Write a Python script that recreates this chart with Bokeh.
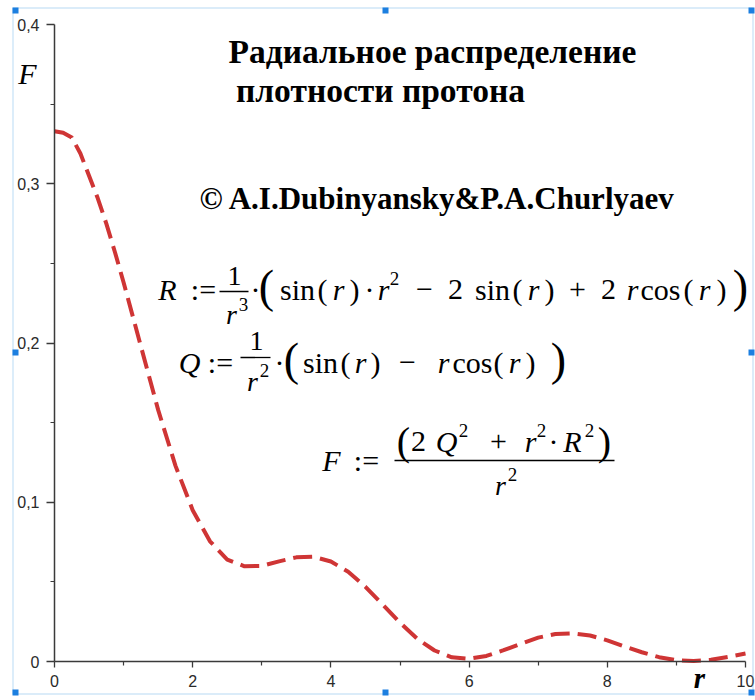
from bokeh.plotting import figure
from bokeh.models import Range1d, FixedTicker, Label, BoxAnnotation
from bokeh.embed import file_html
from bokeh.resources import INLINE

# ---------------- data ----------------
r_values = [0.0, 0.125, 0.25, 0.375, 0.5, 0.625, 0.75, 0.875, 1.0, 1.25, 1.5, 1.75,
            2.0, 2.25, 2.5, 2.75, 3.0, 3.25, 3.5, 3.75, 4.0, 4.25, 4.5, 4.75,
            5.0, 5.25, 5.5, 5.75, 6.0, 6.25, 6.5, 6.75, 7.0, 7.25, 7.5, 7.75,
            8.0, 8.25, 8.5, 8.75, 9.0, 9.25, 9.5, 9.75, 10.0]
F_values = [0.333, 0.332, 0.329, 0.319, 0.305, 0.291, 0.275, 0.257, 0.238, 0.198,
            0.158, 0.123, 0.095, 0.0755, 0.064, 0.0598, 0.060, 0.0629, 0.0654,
            0.0658, 0.0628, 0.0564, 0.0469, 0.0357, 0.0244, 0.0143, 0.0069,
            0.0026, 0.0017, 0.0035, 0.0071, 0.0112, 0.0150, 0.0173, 0.0177,
            0.0163, 0.0133, 0.0094, 0.0058, 0.0027, 0.0008, 0.0003, 0.0011,
            0.0029, 0.0050]

x_ticks = [0, 2, 4, 6, 8, 10]
x_tick_labels = ["0", "2", "4", "6", "8", "10"]
x_minor_ticks = [1, 3, 5, 7, 9]
y_ticks = [0, 0.1, 0.2, 0.3, 0.4]
y_tick_labels = ["0", "0,1", "0,2", "0,3", "0,4"]
y_minor_ticks = [0.05, 0.15, 0.25, 0.35]

title_lines = ["Радиальное распределение", "плотности протона"]
credit_text = "© A.I.Dubinyansky&P.A.Churlyaev"
y_name = "F"
x_name = "r"

# ---------------- layout (pixels of the 755x700 picture) ----------------
W, H = 755, 700
XMIN, XMAX, YMIN, YMAX = 0, 10, 0, 0.4
PX0, PX1 = 54, 745      # where x = 0 and x = 10 sit
PY0, PY1 = 661, 24      # where y = 0 and y = 0.4 sit
KX = (XMAX - XMIN) / (PX1 - PX0)
KY = (YMAX - YMIN) / (PY0 - PY1)


def dx(px):
    return XMIN + (px - PX0) * KX


def dy(py):
    return YMIN + (PY0 - py) * KY


p = figure(width=W, height=H, output_backend="svg", toolbar_location=None,
           x_range=Range1d(dx(0), dx(W)), y_range=Range1d(dy(H), dy(0)),
           min_border=0, min_border_left=0, min_border_right=0,
           min_border_top=0, min_border_bottom=0)
p.outline_line_color = None
p.grid.visible = False
p.background_fill_color = "white"
p.border_fill_color = "white"

AX = "#3a3a3a"
for ax in (p.xaxis[0], p.yaxis[0]):
    ax.fixed_location = 0
    ax.axis_line_color = AX
    ax.axis_line_width = 1.5
    ax.major_tick_line_color = AX
    ax.minor_tick_line_color = AX
    ax.major_tick_line_width = 1.3
    ax.minor_tick_line_width = 1.2
    ax.major_tick_in = 0
    ax.minor_tick_in = 0
    ax.minor_tick_out = 4
    ax.major_label_text_font = "Liberation Sans"
    ax.major_label_text_font_size = "16px"
    ax.major_label_text_color = "#2a2a2a"

p.xaxis.bounds = (XMIN, XMAX)
p.xaxis.ticker = FixedTicker(ticks=x_ticks, minor_ticks=x_minor_ticks)
p.xaxis.major_label_overrides = dict(zip(x_ticks, x_tick_labels))
p.xaxis.major_tick_out = 6
p.xaxis.major_label_standoff = 7

p.yaxis.bounds = (YMIN, YMAX)
p.yaxis.ticker = FixedTicker(ticks=y_ticks, minor_ticks=y_minor_ticks)
p.yaxis.major_label_overrides = dict(zip(y_ticks, y_tick_labels))
p.yaxis.major_tick_out = 8
p.yaxis.major_label_standoff = 7

# ---------------- curve ----------------
p.line(r_values, F_values, line_color="#cf3535", line_width=4, line_dash="19 8")

# ---------------- texts ----------------
SERIF = "Liberation Serif"
MID = 0.3375  # distance from baseline to the middle of the text box, in em


def put(text, px, baseline, size, style="normal"):
    p.add_layout(Label(x=dx(px), y=dy(baseline - MID * size), text=text,
                       text_align="center", text_baseline="middle",
                       text_font=SERIF, text_font_size=f"{size}px",
                       text_font_style=style, text_color="black"))


put(title_lines[0], 432, 62, 33.5, "bold")
put(title_lines[1], 380, 101, 33.5, "bold")
put(credit_text, 437, 208, 31, "bold")
put(y_name, 27, 83, 30, "italic")
put(x_name, 699, 687, 29, "bold italic")

M, SUP, BIG = 30, 19, 46
# R := 1/r^3 * ( sin(r)*r^2 - 2 sin(r) + 2 rcos(r) )
rb = 299
R_tokens = [
    ("R", 167, rb, M, "italic"), (":=", 203, rb, M, "normal"),
    ("1", 234, 285, 28, "normal"),
    ("r", 231, 323, 28, "italic"), ("3", 243, 310, SUP, "normal"),
    ("·", 255, rb, M, "normal"), ("(", 266, rb + 3, BIG, "normal"),
    ("sin", 297, rb, M, "normal"), ("(", 322, rb, M, "normal"),
    ("r", 338, rb, M, "italic"), (")", 354, rb, M, "normal"),
    ("·", 369, rb, M, "normal"), ("r", 383, rb, M, "italic"),
    ("2", 394, rb - 15, SUP, "normal"), ("−", 424, rb, M, "normal"),
    ("2", 455, rb, M, "normal"), ("sin", 492, rb, M, "normal"),
    ("(", 517, rb, M, "normal"), ("r", 533, rb, M, "italic"),
    (")", 549, rb, M, "normal"), ("+", 577, rb, M, "normal"),
    ("2", 608, rb, M, "normal"), ("r", 632, rb, M, "italic"),
    ("cos", 660, rb, M, "normal"), ("(", 688, rb, M, "normal"),
    ("r", 704, rb, M, "italic"), (")", 721, rb, M, "normal"),
    (")", 740, rb + 3, BIG, "normal"),
]
qb = 372
Q_tokens = [
    ("Q", 189, qb, M, "italic"), (":=", 220, qb, M, "normal"),
    ("1", 256, 350, 28, "normal"),
    ("r", 252, 390, 28, "italic"), ("2", 264, 376, SUP, "normal"),
    ("·", 279, qb, M, "normal"), ("(", 291, qb + 3, BIG, "normal"),
    ("sin", 320, qb, M, "normal"), ("(", 345, qb, M, "normal"),
    ("r", 360, qb, M, "italic"), (")", 375, qb, M, "normal"),
    ("−", 407, qb, M, "normal"), ("r", 443, qb, M, "italic"),
    ("cos", 472, qb, M, "normal"), ("(", 498, qb, M, "normal"),
    ("r", 514, qb, M, "italic"), (")", 530, qb, M, "normal"),
    (")", 558, qb + 3, BIG, "normal"),
]
fb = 470
nb = 451
F_tokens = [
    ("F", 331, fb, M, "italic"), (":=", 366, fb, M, "normal"),
    ("(", 403, nb + 3, 40, "normal"), ("2", 418, nb, M, "normal"),
    ("Q", 446, nb, M, "italic"), ("2", 463, nb - 15, SUP, "normal"),
    ("+", 498, nb, M, "normal"), ("r", 530, nb, M, "italic"),
    ("2", 541, nb - 15, SUP, "normal"), ("·", 553, nb, M, "normal"),
    ("R", 572, nb, M, "italic"), ("2", 589, nb - 15, SUP, "normal"),
    (")", 604, nb + 3, 40, "normal"),
    ("r", 500, 494, 28, "italic"), ("2", 512, 480, SUP, "normal"),
]
for tok in R_tokens + Q_tokens + F_tokens:
    put(*tok)

# fraction bars
bars = [(219, 248, 291), (240, 270, 357), (394, 614, 460)]
p.segment(x0=[dx(b[0]) for b in bars], x1=[dx(b[1]) for b in bars],
          y0=[dy(b[2]) for b in bars], y1=[dy(b[2]) for b in bars],
          line_color="black", line_width=1.3)

# selection frame of the region with its handles
FRAME = "#62aee8"
HANDLE = "#1c7fe0"
p.add_layout(BoxAnnotation(left=dx(12.5), right=dx(752.5), top=dy(7.5), bottom=dy(693.5),
                           fill_alpha=0, line_color=FRAME, line_width=1.5))
handles = [(12, 7), (382, 7), (748, 7), (12, 349), (748, 349),
           (12, 689), (382, 689), (748, 689)]
for hx, hy in handles:
    p.add_layout(BoxAnnotation(left=dx(hx), right=dx(hx + 6), top=dy(hy), bottom=dy(hy + 6),
                               fill_color=HANDLE, fill_alpha=1, line_color=None))

open("out.html", "w").write(file_html(p, INLINE))
